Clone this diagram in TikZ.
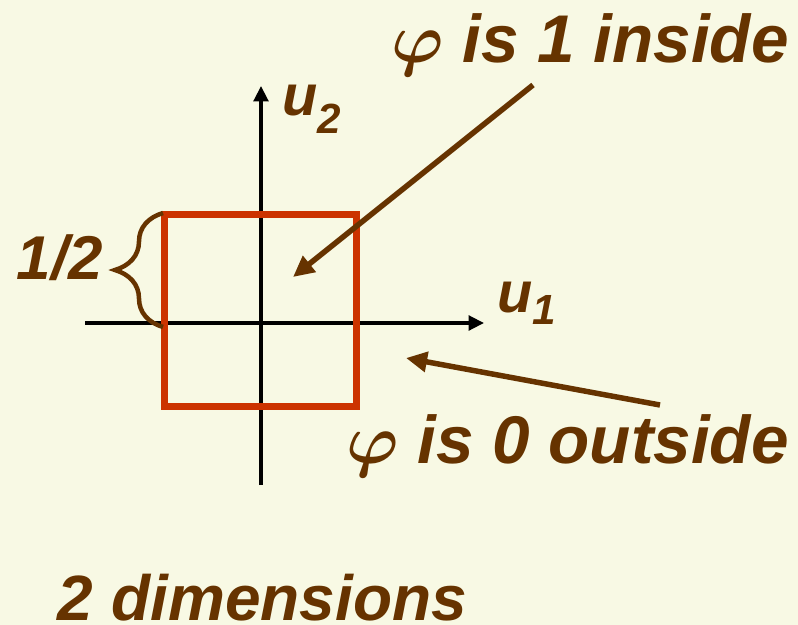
\RequirePackage{fix-cm}
\documentclass[tikz,border=0pt]{standalone}
\usepackage{fontspec}
\setmainfont{Liberation Sans}
\usepackage{tikz}
\usetikzlibrary{arrows.meta, decorations.pathreplacing}

\definecolor{paper}{RGB}{248,249,228}
\definecolor{brown}{RGB}{102,51,0}
\definecolor{boxred}{RGB}{204,51,0}

\newcommand{\phisym}{{\fontsize{50}{56}\selectfont\boldmath$\varphi$}}

\begin{document}
\begin{tikzpicture}[
    x=0.025cm, y=-0.025cm,
    every node/.style={inner sep=0pt, outer sep=0pt, text=brown},
    title/.style={font=\fontsize{48}{54}\selectfont\bfseries\itshape, anchor=base west},
    axlabel/.style={font=\fontsize{41}{46}\selectfont\bfseries\itshape, anchor=base west},
    axis/.style={line width=2.4pt, -{Triangle[length=11pt, width=10.5pt]}},
    pointer/.style={draw=brown, line width=3.9pt, -{Triangle[length=15pt, width=14pt]}},
    square/.style={draw=boxred, line width=5pt, minimum size=4.8cm}
  ]

  \fill[paper] (0,0) rectangle (798,625);
  \useasboundingbox (0,0) rectangle (798,625);

  % axes
  \coordinate (o) at (261,323);
  \coordinate (xleft) at (85,323);
  \coordinate (xright) at (484,323);
  \coordinate (ybottom) at (261,485);
  \coordinate (ytop) at (261,86);
  \draw[axis] (xleft) -- (xright);
  \draw[axis] (ybottom) -- (ytop);
  \node[axlabel] (u1) at (497,312) {u\raisebox{-9.2pt}{\fontsize{30}{33}\selectfont 1}};
  \node[axlabel] (u2) at (282,115) {u\raisebox{-12.8pt}{\fontsize{30}{33}\selectfont 2}};

  % the square
  \node[square] (box) at (260.75,310.25) {};

  % half width
  \coordinate (bracelow) at (163,327);
  \coordinate (bracehigh) at (163,213);
  \draw[brown, line width=3.2pt, decorate, decoration={brace, amplitude=1.2cm}]
    (bracelow) -- (bracehigh);
  \node[title, font=\fontsize{44}{50}\selectfont\bfseries\itshape] (half) at (17,279) {1/2};

  % labels
  \node[title] (inside) at (391,62) {\phisym\ is 1 inside};
  \node[title] (outside) at (346,463) {\phisym\ is 0 outside};
  \node[title, font=\fontsize{45.5}{50}\selectfont\bfseries\itshape] (dims) at (58,620) {2 dimensions};

  \coordinate (instart) at (533,85);
  \coordinate (inend) at (293,277);
  \coordinate (outstart) at (660,405);
  \coordinate (outend) at (406,358);
  \draw[pointer] (instart) -- (inend);
  \draw[pointer] (outstart) -- (outend);

\end{tikzpicture}
\end{document}
